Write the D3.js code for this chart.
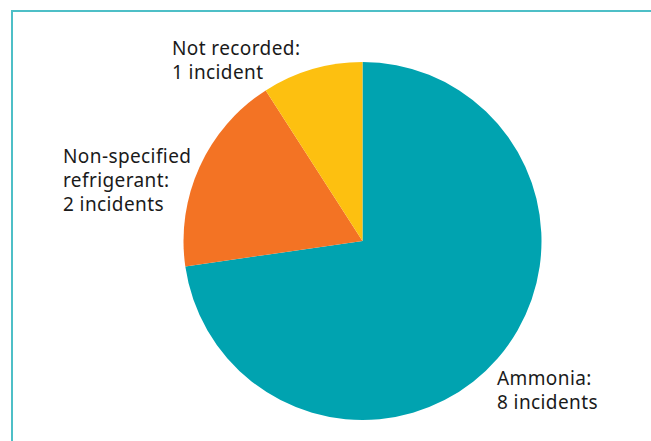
<!DOCTYPE html>
<html>
<head>
<meta charset="utf-8">
<script src="https://cdn.jsdelivr.net/npm/d3@7"></script>
<style>
  html, body { margin: 0; padding: 0; background: #ffffff; }
  svg { display: block; }
</style>
</head>
<body>
<svg id="chart" width="651" height="441"></svg>
<script>
const categories = ["Ammonia", "Non-specified refrigerant", "Not recorded"];
const values = [8, 2, 1];
const labelLines = [
  ["Ammonia:", "8 incidents"],
  ["Non-specified", "refrigerant:", "2 incidents"],
  ["Not recorded:", "1 incident"]
];
const colors = ["#00a3b0", "#f37324", "#fdc010"];

const svg = d3.select("#chart");

// frame
svg.append("path")
  .attr("d", "M12,441 L12,11 L651,11")
  .attr("fill", "none")
  .attr("stroke", "#4dbfc7")
  .attr("stroke-width", 2);

const cx = 362.5, cy = 241, r = 179;
const color = d3.scaleOrdinal().domain(categories).range(colors);
const pie = d3.pie().sort(null).value(d => d.value);
const arc = d3.arc().innerRadius(0).outerRadius(r);
const data = categories.map((c, i) => ({ name: c, value: values[i] }));

const g = svg.append("g").attr("transform", `translate(${cx},${cy})`);
g.selectAll("path")
  .data(pie(data))
  .join("path")
  .attr("d", arc)
  .attr("fill", d => color(d.data.name));

const labelPos = [
  { x: 497, y: 385 },
  { x: 63, y: 163 },
  { x: 172, y: 55 }
];
const lineH = 24;
labelLines.forEach((lines, i) => {
  const t = svg.append("text")
    .attr("x", labelPos[i].x)
    .attr("y", labelPos[i].y)
    .attr("font-family", "'Noto Sans', 'Open Sans', sans-serif")
    .attr("font-size", 19)
    .attr("letter-spacing", 0.4)
    .attr("fill", "#1a1a1a");
  lines.forEach((l, j) => {
    t.append("tspan").attr("x", labelPos[i].x).attr("y", labelPos[i].y + j * lineH).text(l);
  });
});
</script>
</body>
</html>
